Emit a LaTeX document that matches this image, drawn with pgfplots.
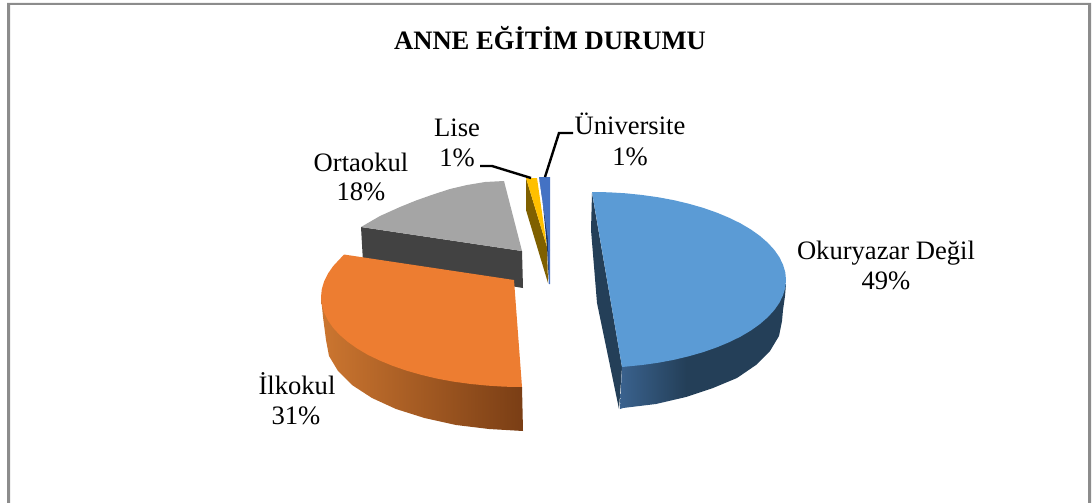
\documentclass[border=0pt]{standalone}
\usepackage{pgfplots}
\pgfplotsset{compat=1.18}
\usepackage{fontspec}
\setmainfont{Liberation Serif}
\definecolor{frameC}{HTML}{8C8C8C}
\definecolor{blueTop}{HTML}{5B9BD5}
\definecolor{blueSideA}{HTML}{3A628E}
\definecolor{blueSideB}{HTML}{243F58}
\definecolor{orangeTop}{HTML}{ED7D31}
\definecolor{orangeA}{HTML}{CC7630}
\definecolor{orangeB}{HTML}{7A3E15}
\definecolor{greyTop}{HTML}{A5A5A5}
\definecolor{greySide}{HTML}{424242}
\definecolor{yellowTop}{HTML}{FFC000}
\definecolor{yellowSide}{HTML}{7F6000}
\definecolor{royalTop}{HTML}{4472C4}
\definecolor{royalSide}{HTML}{203864}
\pgfdeclarehorizontalshading{blueside}{100bp}{color(0bp)=(blueSideA); color(25bp)=(blueSideA); color(45bp)=(blueSideB); color(100bp)=(blueSideB)}
\newcommand{\lbl}{\fontsize{26.6}{30}\selectfont}
\begin{document}
\begin{tikzpicture}
\path[use as bounding box] (0,0) rectangle (1092pt,503pt);
\begin{axis}[
  scale only axis, width=1092pt, height=503pt,
  xmin=0, xmax=1092, ymin=0, ymax=503, y dir=reverse,
  hide axis, clip=false, no markers,
  every axis plot/.append style={draw=none, line width=0pt},
]
% frame
\addplot[fill=frameC] coordinates {(7,503)(7,3)(1091,3)(1091,503)(1088,503)(1088,5)(10,5)(10,503)} --cycle;
% Ortaokul
\addplot[fill=greySide] coordinates {(361,227)(522,251)(523,288)(363,262)} --cycle;
\addplot[fill=greyTop] coordinates {(504,181)(485,182)(467,185)(450,189)(433,194.5)(416,200.5)(400,207)(380,216)(361,227)(522,251)} --cycle;
% Ilkokul
\addplot[shade, left color=orangeA, right color=orangeB] coordinates {(321,297)(323,317)(326,340)(329,356)(338,371)(352,385)(372,398)(396,409)(424.5,418)(456,425)(489,429)(523,431)(522,387)} --cycle;
\addplot[fill=orangeTop] coordinates {(522,387)(504.5,386.7)(487.1,385.6)(470,383.9)(453.3,381.6)(437,378.6)(421.5,374.9)(406.7,370.7)(392.8,365.9)(379.9,360.6)(368,354.9)(357.3,348.6)(348,342)(339.8,335)(333.1,327.8)(327.9,320.3)(324.1,312.6)(321.8,304.8)(321,297)(321.8,289.2)(324.1,281.4)(327.9,273.7)(333.1,266.2)(339.8,259)(344,254.5)(514,280)} --cycle;
% Okuryazar
\addplot[fill=blueSideB] coordinates {(592,193)(591,230)(597,303)(619,409)(622,367)} --cycle;
\addplot[shade, shading=blueside] coordinates {(786,284)(785,296)(783,310)(782,321)(779,336)(770,351)(756,365)(737,378)(713,388)(686,397)(656,404)(623,408)(620,409)(622,367)} --cycle;
\addplot[fill=blueTop] coordinates {(592,192)(608.9,192.3)(625.7,193.3)(642.2,195)(658.4,197.3)(674,200.2)(689,203.8)(703.3,207.9)(716.7,212.6)(729.2,217.8)(740.6,223.4)(750.9,229.5)(760,236)(767.8,242.8)(774.3,249.9)(779.4,257.2)(783,264.7)(785.3,272.3)(786,280)(785.3,287.7)(783,295.3)(779.4,302.8)(774.3,310.1)(767.8,317.2)(760,324)(750.9,330.5)(740.6,336.6)(729.2,342.2)(716.7,347.4)(703.3,352.1)(689,356.2)(674,359.8)(658.4,362.7)(642.2,365)(622,367)} --cycle;
% Lise
\addplot[fill=yellowSide] coordinates {(526,178)(526,210)(548,283)(547,247)} --cycle;
\addplot[fill=yellowTop] coordinates {(526,178)(537,178)(547,247)} --cycle;
% Universite
\addplot[fill=royalSide] coordinates {(539,177)(542,195)(547,247)(549,284)(550,250)} --cycle;
\addplot[fill=royalTop] coordinates {(539,177)(550,177)(550,284)(549,284)(548,240)} --cycle;
% leader lines
\addplot[draw=black, line width=2.4pt] coordinates {(480,166)(492,166)(531,178)};
\addplot[draw=black, line width=2.4pt] coordinates {(573,133)(559,133)(545,177)};
% text
\node[anchor=base, font=\lbl\bfseries, inner sep=0pt] at (axis cs:550,49) {ANNE EĞİTİM DURUMU};
\node[anchor=base, font=\lbl, inner sep=0pt] at (axis cs:457,136) {Lise};
\node[anchor=base, font=\lbl, inner sep=0pt] at (axis cs:457,166) {1\%};
\node[anchor=base, font=\lbl, inner sep=0pt] at (axis cs:630,134) {Üniversite};
\node[anchor=base, font=\lbl, inner sep=0pt] at (axis cs:630,165) {1\%};
\node[anchor=base, font=\lbl, inner sep=0pt] at (axis cs:361,171) {Ortaokul};
\node[anchor=base, font=\lbl, inner sep=0pt] at (axis cs:361,200.5) {18\%};
\node[anchor=base, font=\lbl, inner sep=0pt] at (axis cs:886,259) {Okuryazar Değil};
\node[anchor=base, font=\lbl, inner sep=0pt] at (axis cs:886,289) {49\%};
\node[anchor=base, font=\lbl, inner sep=0pt] at (axis cs:297,394) {İlkokul};
\node[anchor=base, font=\lbl, inner sep=0pt] at (axis cs:296,424) {31\%};
\end{axis}
\end{tikzpicture}
\end{document}
